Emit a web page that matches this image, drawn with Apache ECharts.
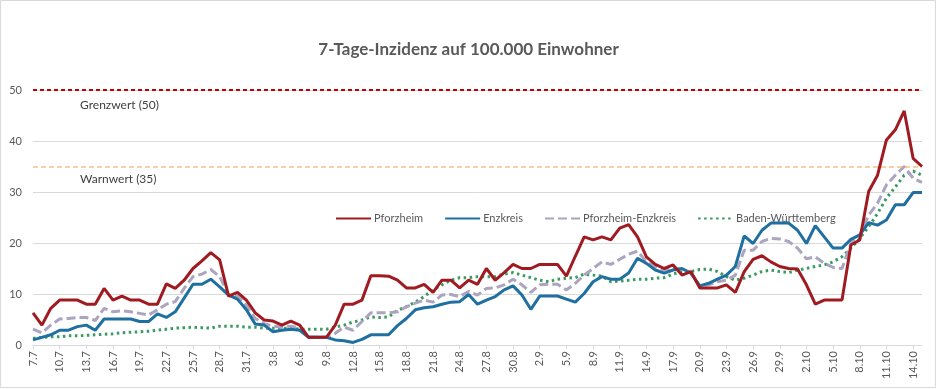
<!DOCTYPE html>
<html>
<head>
<meta charset="utf-8">
<script src="https://cdn.jsdelivr.net/npm/echarts@6/dist/echarts.min.js"></script>
<style>html,body{margin:0;padding:0;background:#fff}#c{width:937px;height:389px}</style>
</head>
<body>
<div id="c"></div>
<script>
const categories = [
'7.7','8.7','9.7','10.7','11.7','12.7','13.7','14.7','15.7','16.7','17.7','18.7','19.7','20.7','21.7','22.7','23.7','24.7','25.7','26.7','27.7','28.7','29.7','30.7','31.7',
'1.8','2.8','3.8','4.8','5.8','6.8','7.8','8.8','9.8','10.8','11.8','12.8','13.8','14.8','15.8','16.8','17.8','18.8','19.8','20.8','21.8','22.8','23.8','24.8','25.8','26.8','27.8','28.8','29.8','30.8','31.8',
'1.9','2.9','3.9','4.9','5.9','6.9','7.9','8.9','9.9','10.9','11.9','12.9','13.9','14.9','15.9','16.9','17.9','18.9','19.9','20.9','21.9','22.9','23.9','24.9','25.9','26.9','27.9','28.9','29.9','30.9',
'1.10','2.10','3.10','4.10','5.10','6.10','7.10','8.10','9.10','10.10','11.10','12.10','13.10','14.10','15.10'];

const pforzheim = [
6.3,3.9,7.2,8.8,8.8,8.8,8.0,8.0,11.1,8.8,9.6,8.8,8.8,8.0,8.0,12.0,11.1,12.7,15.0,16.5,18.1,16.7,9.6,10.3,8.8,
6.3,4.9,4.7,3.9,4.7,3.9,1.5,1.5,1.5,3.9,8.0,8.0,8.8,13.6,13.6,13.5,12.7,11.2,11.2,11.9,10.3,12.7,12.7,11.2,12.7,11.9,15.0,12.7,14.2,15.8,15.0,
15.0,15.8,15.8,15.8,13.5,17.4,21.2,20.6,21.2,20.6,22.9,23.6,21.2,17.3,15.8,15.0,15.7,13.7,14.4,11.2,11.2,11.2,11.8,10.3,14.4,16.8,17.5,16.3,15.4,15.0,
14.9,11.8,8.0,8.8,8.8,8.8,19.6,20.6,30.1,33.3,40.2,42.2,45.9,36.6,35.0];

const enzkreis = [
1.0,1.5,2.0,2.9,2.9,3.6,3.9,2.9,5.1,5.1,5.1,5.1,4.6,4.6,6.1,5.4,6.5,9.2,11.9,11.9,12.9,11.4,9.8,9.0,6.9,
4.1,3.9,2.6,2.9,3.1,2.9,1.5,1.5,1.5,1.0,0.85,0.5,1.1,2.0,2.0,2.0,3.8,5.2,6.9,7.3,7.5,8.0,8.4,8.5,9.9,8.0,8.8,9.5,10.8,11.6,9.8,
7.0,9.6,9.6,9.6,9.0,8.4,10.1,12.4,13.4,12.9,12.9,14.1,17.0,16.0,14.7,14.1,14.7,15.0,14.1,11.6,12.1,12.9,13.7,15.4,21.4,19.9,22.5,23.9,23.9,23.9,
22.5,19.9,23.4,21.2,19.0,19.0,20.7,21.6,24.0,23.5,24.5,27.5,27.5,29.9,29.9];

const pforzheimEnzkreis = [
3.1,2.4,3.9,5.1,5.2,5.4,5.4,4.8,7.2,6.5,6.7,6.5,6.2,5.9,6.9,8.0,8.5,11.1,13.4,13.9,14.8,13.4,9.8,9.6,7.8,
5.2,4.2,3.7,3.5,3.7,3.3,1.5,1.5,1.5,2.3,3.5,2.9,4.6,6.3,6.3,6.3,6.5,7.5,8.2,8.8,8.4,9.8,9.9,9.5,10.5,9.8,11.1,11.2,11.8,12.9,11.8,
10.3,11.8,11.9,11.9,10.8,12.1,13.7,15.0,16.3,15.8,16.8,17.8,18.4,16.3,15.4,14.7,15.2,14.7,14.1,11.6,11.8,12.4,12.7,13.7,18.6,18.6,20.3,20.9,20.8,20.3,
19.0,16.9,17.3,16.0,15.2,15.0,19.9,21.6,25.5,27.8,31.4,33.3,35.0,32.7,31.9];

const badenWuerttemberg = [
1.3,1.5,1.6,1.6,1.8,1.8,1.9,2.0,2.1,2.2,2.4,2.5,2.6,2.7,2.9,3.1,3.3,3.4,3.5,3.4,3.3,3.7,3.7,3.7,3.5,
3.5,3.3,3.3,3.3,3.3,3.1,3.1,3.1,3.1,3.5,3.9,4.5,4.9,5.5,5.4,5.5,6.8,7.5,8.4,9.5,10.8,11.8,12.7,13.2,13.2,13.4,13.4,13.4,13.9,14.2,13.7,
13.2,12.7,12.4,12.9,13.1,13.2,13.9,13.7,13.5,12.4,12.5,12.7,12.9,12.9,13.1,13.2,13.9,14.4,14.4,14.8,14.9,14.4,13.4,12.7,13.1,13.7,14.4,14.7,14.4,14.2,
14.7,15.0,15.4,15.7,16.3,17.3,19.0,20.9,23.2,25.8,28.8,31.0,33.3,34.1,33.3];

const grenzwert = 50;
const warnwert = 35;
const yTicks = [0, 10, 20, 30, 40, 50];

const FONT = 'Lato';
const chart = echarts.init(document.getElementById('c'), null, {renderer: 'canvas'});
chart.setOption({
  animation: false,
  backgroundColor: '#ffffff',
  textStyle: {fontFamily: FONT},
  title: {
    text: '7-Tage-Inzidenz auf 100.000 Einwohner',
    left: 'center', top: 36,
    textStyle: {fontFamily: FONT, fontSize: 17, fontWeight: 'bold', color: '#595959'}
  },
  legend: {
    left: 330, top: 208,
    itemWidth: 35, itemHeight: 14, itemGap: 21,
    itemStyle: {opacity: 0},
    textStyle: {fontFamily: FONT, fontSize: 11, color: '#595959', padding: [0, 0, 0, -2]},
    data: ['Pforzheim', 'Enzkreis', 'Pforzheim-Enzkreis', 'Baden-Württemberg']
  },
  grid: {left: 33, right: 15, top: 90, bottom: 44, containLabel: false},
  xAxis: {
    type: 'category', boundaryGap: false, data: categories,
    axisLine: {lineStyle: {color: '#d9d9d9'}},
    axisTick: {show: true, interval: 2, length: 4, lineStyle: {color: '#d9d9d9'}},
    axisLabel: {interval: 2, rotate: 90, margin: 6, fontFamily: FONT, fontSize: 11, color: '#595959'},
    splitLine: {show: false}
  },
  yAxis: {
    type: 'value', min: yTicks[0], max: yTicks[yTicks.length - 1], interval: 10,
    axisLine: {show: false}, axisTick: {show: false},
    axisLabel: {margin: 11, fontFamily: FONT, fontSize: 11, color: '#595959'},
    splitLine: {lineStyle: {color: '#d9d9d9', width: 1}}
  },
  graphic: [
    {type: 'rect', shape: {x: 0.5, y: 0.5, width: 935, height: 387}, style: {fill: 'none', stroke: '#d9d9d9', lineWidth: 1}, silent: true},
    {type: 'text', left: 80, top: 99, style: {text: 'Grenzwert (50)', font: '12px ' + FONT, fill: '#404040'}},
    {type: 'text', left: 80, top: 173, style: {text: 'Warnwert (35)', font: '12px ' + FONT, fill: '#404040'}}
  ],
  series: [
    {
      name: 'Pforzheim', type: 'line', data: pforzheim, showSymbol: false, symbol: 'none', z: 5,
      lineStyle: {color: '#A01B21', width: 3}, itemStyle: {color: '#A01B21'},
      markLine: {
        silent: true, symbol: 'none', label: {show: false},
        data: [
          {yAxis: grenzwert, lineStyle: {color: '#C00000', width: 2, type: [4, 3]}},
          {yAxis: warnwert, lineStyle: {color: '#F2C28C', width: 1.5, type: [5, 3]}}
        ]
      }
    },
    {
      name: 'Enzkreis', type: 'line', data: enzkreis, showSymbol: false, symbol: 'none', z: 4,
      lineStyle: {color: '#1F6FA0', width: 3}, itemStyle: {color: '#1F6FA0'}
    },
    {
      name: 'Pforzheim-Enzkreis', type: 'line', data: pforzheimEnzkreis, showSymbol: false, symbol: 'none', z: 3,
      lineStyle: {color: '#ABA5C0', width: 3, type: [9, 4]}, itemStyle: {color: '#ABA5C0'}
    },
    {
      name: 'Baden-Württemberg', type: 'line', data: badenWuerttemberg, showSymbol: false, symbol: 'none', z: 2,
      lineStyle: {color: '#3A9A62', width: 3, type: [2.5, 3.5]}, itemStyle: {color: '#3A9A62'}
    }
  ]
});
</script>
</body>
</html>
